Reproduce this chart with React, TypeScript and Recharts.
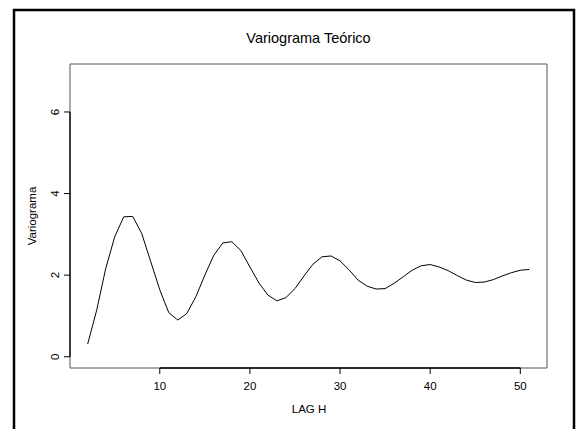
import React from "react";
import { LineChart, Line, XAxis, YAxis, ReferenceArea, ReferenceLine } from "recharts";

// lag distances and theoretical variogram values
const lags = [
  2, 3, 4, 5, 6, 7, 8, 9, 10, 11, 12, 13, 14, 15, 16, 17, 18, 19, 20, 21, 22, 23, 24, 25, 26,
  27, 28, 29, 30, 31, 32, 33, 34, 35, 36, 37, 38, 39, 40, 41, 42, 43, 44, 45, 46, 47, 48, 49, 50, 51,
];
const gamma = [
  0.31, 1.14, 2.16, 2.94, 3.43, 3.44, 3.02, 2.33, 1.64, 1.08, 0.9, 1.06, 1.47, 2.0, 2.49, 2.79,
  2.82, 2.6, 2.2, 1.81, 1.51, 1.37, 1.45, 1.67, 1.98, 2.27, 2.45, 2.47, 2.35, 2.13, 1.88, 1.73,
  1.66, 1.67, 1.8, 1.96, 2.12, 2.23, 2.26, 2.2, 2.11, 1.99, 1.88, 1.82, 1.83, 1.89, 1.98, 2.06,
  2.12, 2.14,
];
const xTicks = [10, 20, 30, 40, 50];
const yTicks = [0, 2, 4, 6];

const data = lags.map((lag, i) => ({ lag, gamma: gamma[i] }));

const FONT = "'Liberation Sans', Arial, Helvetica, sans-serif";
const X_DOMAIN: [number, number] = [0.04, 52.96];
const Y_DOMAIN: [number, number] = [-0.276, 7.176];

/** y tick labels drawn rotated, like R's default las=0 */
function RotatedTick({ y, payload }: any) {
  const lx = 59;
  return (
    <text
      x={lx}
      y={y}
      transform={`rotate(-90, ${lx}, ${y})`}
      textAnchor="middle"
      fontSize={11.5}
      fontFamily={FONT}
      fill="#000"
    >
      {payload.value}
    </text>
  );
}

export default function App() {
  return (
    <div style={{ position: "fixed", left: 0, top: 0, width: 579, height: 429, background: "#fff" }}>
      <LineChart width={579} height={429} data={data} margin={{ top: 64, right: 32, bottom: 0, left: 0 }}>
        <XAxis
          dataKey="lag"
          type="number"
          domain={X_DOMAIN}
          ticks={xTicks}
          allowDataOverflow
          axisLine={false}
          tickLine={{ stroke: "#000" }}
          tickSize={6}
          tickMargin={8}
          height={61}
          tick={{ fill: "#000", fontSize: 11.5, fontFamily: FONT }}
        />
        <YAxis
          type="number"
          domain={Y_DOMAIN}
          ticks={yTicks}
          allowDataOverflow
          axisLine={false}
          tickLine={{ stroke: "#000" }}
          tickSize={6}
          tickMargin={4}
          width={70}
          tick={<RotatedTick />}
        />
        <ReferenceArea
          x1={X_DOMAIN[0]}
          x2={X_DOMAIN[1]}
          y1={Y_DOMAIN[0]}
          y2={Y_DOMAIN[1]}
          fill="none"
          fillOpacity={0}
          stroke="#555"
          strokeWidth={1}
        />
        <ReferenceLine
          segment={[{ x: 10, y: Y_DOMAIN[0] }, { x: 50, y: Y_DOMAIN[0] }]}
          stroke="#000"
          strokeWidth={1.3}
        />
        <ReferenceLine
          segment={[{ x: X_DOMAIN[0], y: 0 }, { x: X_DOMAIN[0], y: 6 }]}
          stroke="#000"
          strokeWidth={1.3}
        />
        <Line
          type="linear"
          dataKey="gamma"
          stroke="#000"
          strokeWidth={1}
          dot={false}
          isAnimationActive={false}
        />
      </LineChart>
      <svg
        width={579}
        height={429}
        style={{ position: "absolute", left: 0, top: 0, pointerEvents: "none" }}
      >
        <path d="M14,432 V10 H574 V432" fill="none" stroke="#000" strokeWidth={2.5} />
        <text x={308.5} y={43} textAnchor="middle" fontSize={14.5} fontFamily={FONT} fill="#000">
          Variograma Teórico
        </text>
        <text x={309} y={413} textAnchor="middle" fontSize={11.5} fontFamily={FONT} fill="#000">
          LAG H
        </text>
        <text
          x={35.5}
          y={216}
          transform="rotate(-90, 35.5, 216)"
          textAnchor="middle"
          fontSize={11.5}
          fontFamily={FONT}
          fill="#000"
        >
          Variograma
        </text>
      </svg>
    </div>
  );
}
